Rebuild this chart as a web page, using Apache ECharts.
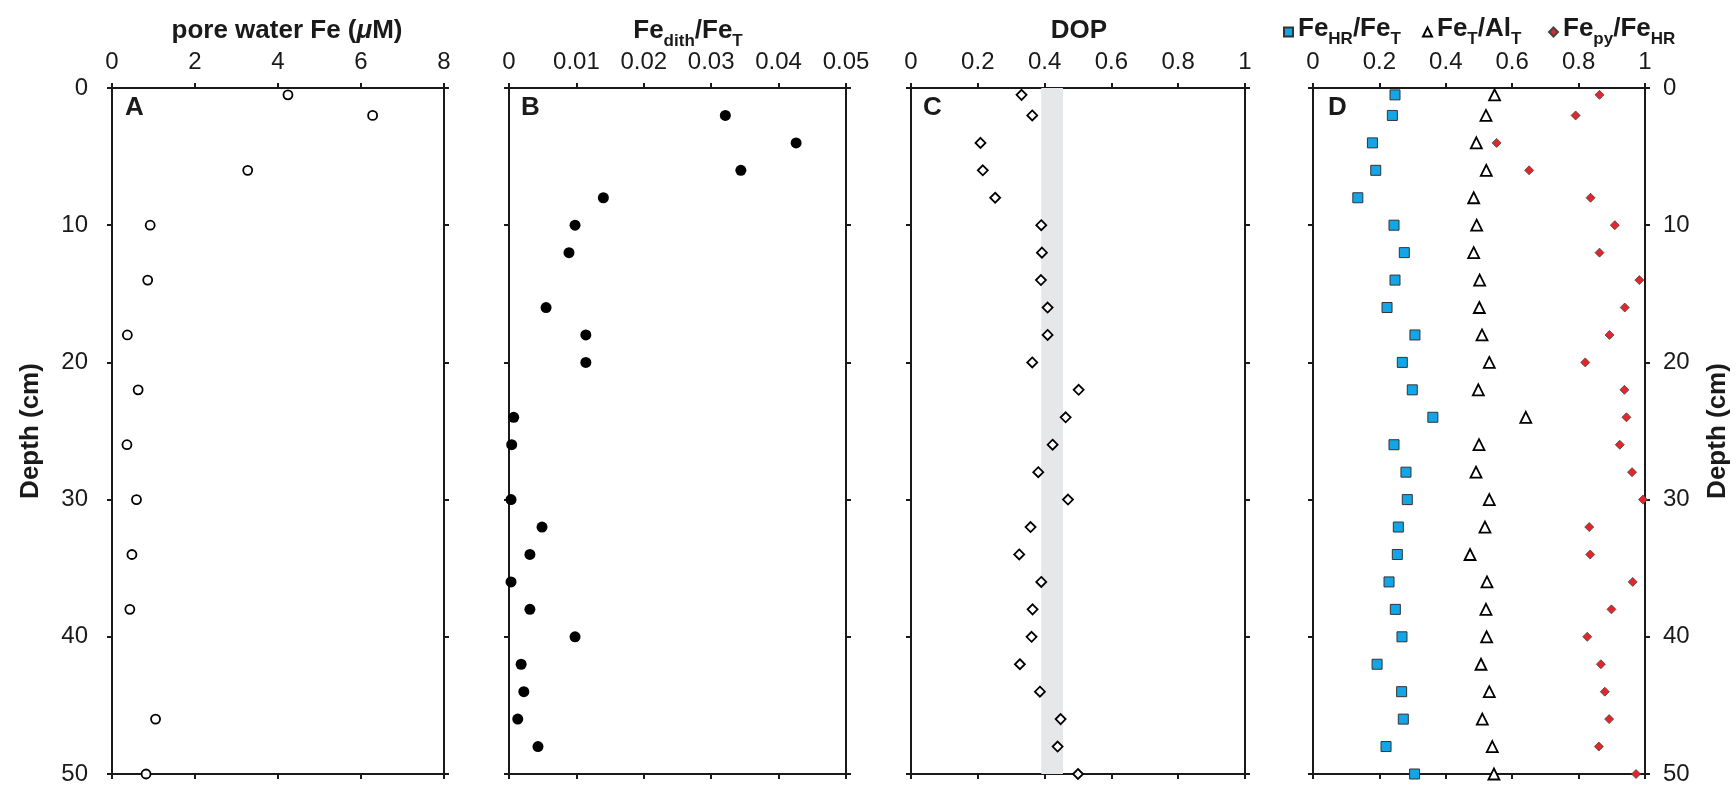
<!DOCTYPE html>
<html><head><meta charset="utf-8">
<script src="https://cdn.jsdelivr.net/npm/echarts@6/dist/echarts.min.js"></script>
<style>html,body{margin:0;padding:0;background:#fff}#c{width:1736px;height:788px}</style>
</head><body><div id="c"></div>
<script>
// ---- data ----
const depthA = [0.5, 2, 6, 10, 14, 18, 22, 26, 30, 34, 38, 46, 50];
const poreFe = [4.24, 6.28, 3.27, 0.92, 0.86, 0.37, 0.63, 0.36, 0.59, 0.48, 0.43, 1.05, 0.82];

const depthB = [2, 4, 6, 8, 10, 12, 16, 18, 20, 24, 26, 30, 32, 34, 36, 38, 40, 42, 44, 46, 48];
const fedithFeT = [0.0321, 0.0426, 0.0344, 0.0140, 0.0098, 0.0089, 0.0055, 0.0114, 0.0114, 0.0007, 0.0004,
  0.0003, 0.0049, 0.0031, 0.0003, 0.0031, 0.0098, 0.0018, 0.0022, 0.0013, 0.0043];

const depthCD = [0.5, 2, 4, 6, 8, 10, 12, 14, 16, 18, 20, 22, 24, 26, 28, 30, 32, 34, 36, 38, 40, 42, 44, 46, 48, 50];
const dop = [0.331, 0.363, 0.208, 0.215, 0.252, 0.390, 0.392, 0.389, 0.409, 0.409, 0.363, 0.502, 0.463,
  0.424, 0.381, 0.470, 0.358, 0.324, 0.390, 0.364, 0.361, 0.326, 0.386, 0.448, 0.439, 0.500];
const dopBand = [0.39, 0.455];

const feHRfeT = [0.247, 0.239, 0.179, 0.189, 0.135, 0.244, 0.275, 0.247, 0.223, 0.307, 0.269, 0.299, 0.361,
  0.244, 0.280, 0.284, 0.257, 0.254, 0.229, 0.248, 0.268, 0.193, 0.267, 0.272, 0.220, 0.306];
const feTalT = [0.547, 0.521, 0.492, 0.522, 0.484, 0.493, 0.484, 0.502, 0.501, 0.509, 0.531, 0.498, 0.641,
  0.500, 0.491, 0.531, 0.518, 0.473, 0.524, 0.521, 0.523, 0.506, 0.531, 0.510, 0.540, 0.545];
const fepyFeHR = [0.863, 0.791, 0.553, 0.651, 0.836, 0.909, 0.863, 0.983, 0.939, 0.893, 0.820, 0.938, 0.944,
  0.924, 0.961, 0.994, 0.832, 0.835, 0.963, 0.899, 0.826, 0.867, 0.879, 0.892, 0.861, 0.973];

const xRanges = [[0, 8, 2], [0, 0.05, 0.01], [0, 1, 0.2], [0, 1, 0.2]];
const depthRange = [0, 50, 10];
const panelLetters = ['A', 'B', 'C', 'D'];
const seriesNames = ['FeHR/FeT', 'FeT/AlT', 'Fepy/FeHR'];
const seriesLabels = {
  'FeHR/FeT': '{m|Fe}{s|HR}{m|/Fe}{s|T}',
  'FeT/AlT': '{m|Fe}{s|T}{m|/Al}{s|T}',
  'Fepy/FeHR': '{m|Fe}{s|py}{m|/Fe}{s|HR}'
};

// ---- layout ----
const FONT = '"Liberation Sans", Arial, Helvetica, sans-serif';
const INK = '#1a1a1a';
const grids = [
  {left: 112, top: 88, width: 332, height: 686},
  {left: 509, top: 88, width: 337, height: 686},
  {left: 911, top: 88, width: 334, height: 686},
  {left: 1313, top: 88, width: 332, height: 686}
];
const rich = {
  m: {fontSize: 26, fontWeight: 'bold', fontFamily: FONT, color: INK, lineHeight: 26, verticalAlign: 'top'},
  s: {fontSize: 17, fontWeight: 'bold', fontFamily: FONT, color: INK, lineHeight: 32, verticalAlign: 'top', padding: [15, 0, 0, 0]},
  i: {fontSize: 26, fontWeight: 'bold', fontStyle: 'italic', fontFamily: FONT, color: INK, lineHeight: 26, verticalAlign: 'top'}
};
const zip = (xs, ys) => xs.map((v, k) => [v, ys[k]]);

const lineStyle = {color: INK, width: 2};
const xAxes = [], yAxes = [];
grids.forEach((g, i) => {
  const xr = xRanges[i];
  const base = {gridIndex: i, type: 'value', min: xr[0], max: xr[1], interval: xr[2],
    axisLine: {show: true, onZero: false, lineStyle},
    axisTick: {show: true, length: 5, lineStyle},
    splitLine: {show: false}};
  xAxes.push(Object.assign({}, base, {position: 'top',
    axisLabel: {show: true, margin: 14, fontSize: 24, fontFamily: FONT, color: INK}}));
  xAxes.push(Object.assign({}, base, {position: 'bottom', axisLabel: {show: false}}));
  const ybase = {gridIndex: i, type: 'value', inverse: true, min: depthRange[0], max: depthRange[1], interval: depthRange[2],
    axisLine: {show: true, onZero: false, lineStyle},
    axisTick: {show: true, length: 5, lineStyle},
    splitLine: {show: false},
    nameLocation: 'middle',
    nameTextStyle: {fontSize: 26, fontWeight: 'bold', fontFamily: FONT, color: INK}};
  yAxes.push(Object.assign({}, ybase, {position: 'left',
    name: i === 0 ? 'Depth (cm)' : '', nameGap: 68,
    axisLabel: {show: i === 0, margin: 24, fontSize: 24, fontFamily: FONT, color: INK}}));
  yAxes.push(Object.assign({}, ybase, {position: 'right',
    name: i === 3 ? 'Depth (cm)' : '', nameGap: 60,
    axisLabel: {show: i === 3, margin: 18, fontSize: 24, fontFamily: FONT, color: INK}}));
});

const titles = [
  {text: '{m|pore water Fe (}{i|μ}{m|M)}', left: 287},
  {text: '{m|Fe}{s|dith}{m|/Fe}{s|T}', left: 688},
  {text: '{m|DOP}', left: 1079}
].map(t => ({text: t.text, left: t.left, top: 18, textAlign: 'center', padding: 0,
  textStyle: {rich}}));
const letterOffsets = [13, 12, 12, 15];
grids.forEach((g, i) => {
  titles.push({text: panelLetters[i], left: g.left + letterOffsets[i], top: 95, padding: 0,
    textStyle: {fontSize: 26, fontWeight: 'bold', fontFamily: FONT, color: INK}});
});

const legendLefts = [1283, 1422, 1548];
const legendIcons = ['rect', 'triangle', 'diamond'];
const legends = seriesNames.map((n, k) => ({
  data: [{name: n, icon: legendIcons[k]}],
  left: legendLefts[k], top: 16, padding: 0, itemGap: 0,
  itemWidth: 9, itemHeight: 9,
  formatter: name => seriesLabels[name],
  textStyle: {rich},
  selectedMode: false
}));

const series = [
  {type: 'scatter', name: 'pore water Fe', xAxisIndex: 0, yAxisIndex: 0, data: zip(poreFe, depthA),
    symbol: 'circle', symbolSize: 9, clip: false,
    itemStyle: {color: '#fff', borderColor: '#000', borderWidth: 1.8, opacity: 1}},
  {type: 'scatter', name: 'Fedith/FeT', xAxisIndex: 2, yAxisIndex: 2, data: zip(fedithFeT, depthB),
    symbol: 'circle', symbolSize: 11, clip: false,
    itemStyle: {color: '#000', opacity: 1}},
  {type: 'scatter', name: 'DOP', xAxisIndex: 4, yAxisIndex: 4, data: zip(dop, depthCD),
    symbol: 'diamond', symbolSize: 10, clip: false, z: 3,
    itemStyle: {color: '#fff', borderColor: '#000', borderWidth: 1.8, opacity: 1},
    markArea: {silent: true, itemStyle: {color: '#e6e7e8', opacity: 1},
      data: [[{xAxis: dopBand[0]}, {xAxis: dopBand[1]}]]}},
  {type: 'scatter', name: seriesNames[0], xAxisIndex: 6, yAxisIndex: 6, data: zip(feHRfeT, depthCD),
    symbol: 'rect', symbolSize: 10, clip: false,
    itemStyle: {color: '#12a6e8', borderColor: '#333', borderWidth: 1, opacity: 1}},
  {type: 'scatter', name: seriesNames[1], xAxisIndex: 6, yAxisIndex: 6, data: zip(feTalT, depthCD),
    symbol: 'triangle', symbolSize: 11, clip: false,
    itemStyle: {color: '#fff', borderColor: '#000', borderWidth: 1.8, opacity: 1}},
  {type: 'scatter', name: seriesNames[2], xAxisIndex: 6, yAxisIndex: 6, data: zip(fepyFeHR, depthCD),
    symbol: 'diamond', symbolSize: 9, clip: false,
    itemStyle: {color: '#e3262b', borderColor: '#444', borderWidth: 0.8, opacity: 1}}
];

const chart = echarts.init(document.getElementById('c'), null, {renderer: 'canvas'});
chart.setOption({
  animation: false,
  backgroundColor: '#fff',
  title: titles,
  legend: legends,
  grid: grids,
  xAxis: xAxes,
  yAxis: yAxes,
  series
});
</script></body></html>
